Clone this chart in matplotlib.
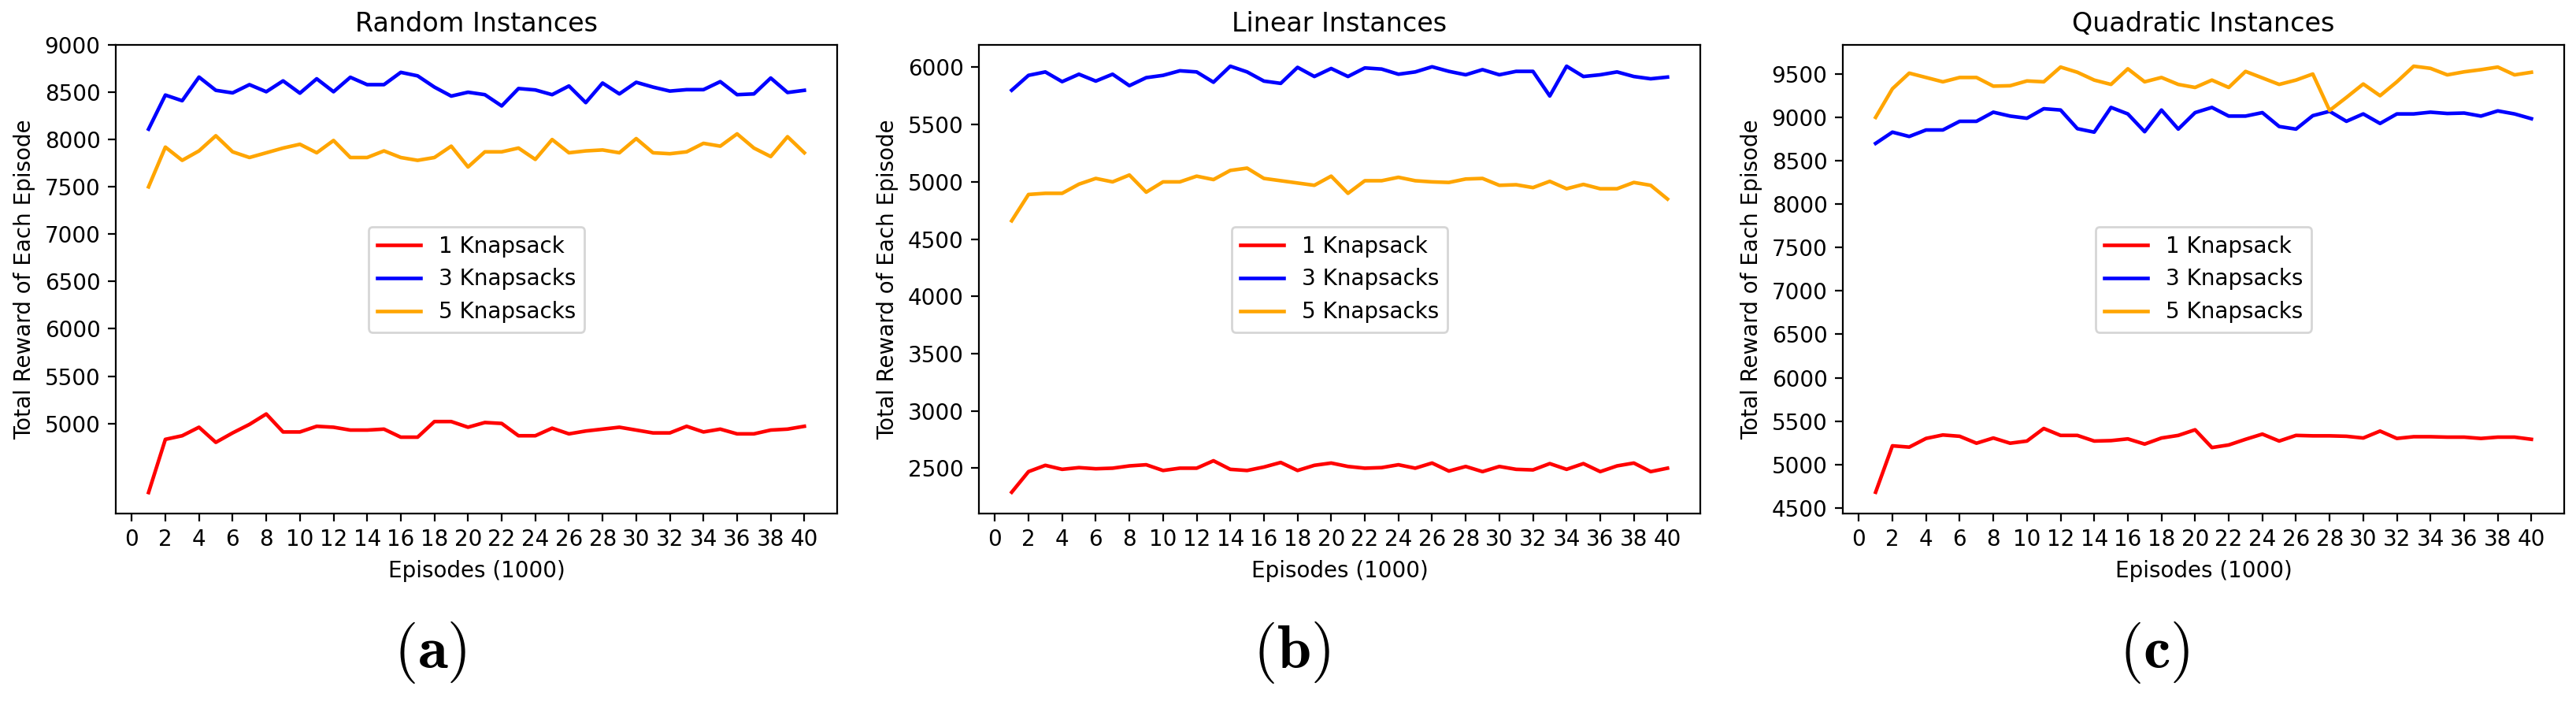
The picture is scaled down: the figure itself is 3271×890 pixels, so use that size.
import matplotlib
matplotlib.use('Agg')
import matplotlib.pyplot as plt

episodes = list(range(1, 41))

random_1 = [4270, 4832, 4870, 4960, 4800, 4900, 4990, 5100, 4910, 4910,
            4970, 4960, 4930, 4930, 4940, 4855, 4855, 5020, 5020, 4960,
            5010, 5000, 4870, 4870, 4950, 4890, 4920, 4940, 4960, 4930,
            4900, 4900, 4970, 4910, 4940, 4890, 4890, 4930, 4940, 4970]
random_3 = [8110, 8470, 8410, 8660, 8520, 8493, 8580, 8505, 8620, 8490,
            8642, 8505, 8658, 8580, 8580, 8710, 8673, 8554, 8459, 8500,
            8474, 8355, 8539, 8524, 8474, 8566, 8390, 8597, 8482, 8605,
            8554, 8512, 8527, 8527, 8612, 8474, 8482, 8650, 8497, 8520]
random_5 = [7500, 7920, 7780, 7880, 8040, 7870, 7810, 7860, 7910, 7950,
            7860, 7990, 7810, 7810, 7880, 7810, 7780, 7810, 7930, 7710,
            7870, 7870, 7910, 7790, 8000, 7860, 7880, 7890, 7860, 8010,
            7860, 7850, 7870, 7960, 7930, 8060, 7910, 7820, 8030, 7860]

linear_1 = [2290, 2470, 2525, 2490, 2505, 2495, 2500, 2520, 2530, 2480,
            2500, 2500, 2565, 2490, 2480, 2510, 2550, 2480, 2525, 2545,
            2515, 2500, 2505, 2530, 2500, 2545, 2475, 2515, 2470, 2515,
            2490, 2485, 2540, 2490, 2540, 2470, 2520, 2545, 2470, 2500]
linear_3 = [5800, 5930, 5960, 5875, 5940, 5880, 5940, 5840, 5910, 5930,
            5970, 5960, 5870, 6010, 5960, 5880, 5860, 6000, 5920, 5990,
            5920, 5995, 5985, 5940, 5960, 6005, 5965, 5935, 5980, 5935,
            5965, 5965, 5750, 6010, 5920, 5935, 5960, 5920, 5900, 5915]
linear_5 = [4660, 4890, 4900, 4900, 4980, 5030, 5000, 5060, 4910, 5000,
            5000, 5050, 5020, 5100, 5120, 5030, 5010, 4990, 4970, 5050,
            4900, 5010, 5010, 5040, 5010, 5000, 4995, 5025, 5030, 4970,
            4975, 4950, 5005, 4940, 4978, 4940, 4940, 4995, 4970, 4850]

quad_1 = [4680, 5215, 5200, 5300, 5340, 5325, 5245, 5305, 5245, 5270,
          5415, 5335, 5335, 5270, 5275, 5295, 5235, 5305, 5335, 5400,
          5195, 5225, 5290, 5350, 5270, 5335, 5330, 5330, 5325, 5305,
          5385, 5300, 5320, 5320, 5315, 5315, 5300, 5315, 5315, 5290]
quad_3 = [8700, 8830, 8780, 8855, 8855, 8955, 8955, 9060, 9015, 8990,
          9100, 9085, 8870, 8830, 9115, 9040, 8835, 9085, 8865, 9055,
          9115, 9015, 9015, 9055, 8895, 8865, 9020, 9070, 8955, 9040,
          8930, 9040, 9040, 9060, 9045, 9050, 9015, 9075, 9040, 8985]
quad_5 = [9000, 9330, 9510, 9460, 9410, 9460, 9460, 9360, 9365, 9420,
          9410, 9580, 9520, 9430, 9380, 9560, 9410, 9460, 9380, 9345,
          9430, 9345, 9530, 9455, 9380, 9430, 9500, 9080, 9230, 9385,
          9250, 9410, 9590, 9565, 9490, 9525, 9550, 9580, 9490, 9520]

titles = ['Random Instances', 'Linear Instances', 'Quadratic Instances']
panel_tags = ['a', 'b', 'c']
series_labels = ['1 Knapsack', '3 Knapsacks', '5 Knapsacks']
series_colors = ['red', 'blue', 'orange']
panels = [(random_1, random_3, random_5),
          (linear_1, linear_3, linear_5),
          (quad_1, quad_3, quad_5)]
yticks = [range(5000, 9001, 500), range(2500, 6001, 500), range(4500, 9501, 500)]

# the source looks like default matplotlib blown up about 2x
S = 2.0
plt.rcParams.update({
    'font.size': 10 * S,
    'axes.titlesize': 12 * S,
    'axes.titlepad': 6 * S,
    'axes.labelpad': 4 * S,
    'axes.linewidth': 0.8 * S,
    'lines.linewidth': 3.3,
    'patch.linewidth': 1.0 * S,
    'xtick.major.size': 3.5 * S,
    'ytick.major.size': 3.5 * S,
    'xtick.major.width': 0.8 * S,
    'ytick.major.width': 0.8 * S,
    'xtick.major.pad': 3.5 * S,
    'ytick.major.pad': 3.5 * S,
    'mathtext.fontset': 'cm',
})

W, H = 3271, 890
fig = plt.figure(figsize=(W / 100, H / 100), dpi=100)

lefts = [147, 1243, 2340]
tag_x = [546, 1640, 2736]
ax_w, ax_top, ax_bot = 916, 57, 652

for k in range(3):
    ax = fig.add_axes([lefts[k] / W, 1 - ax_bot / H, ax_w / W, (ax_bot - ax_top) / H])
    for vals, lab, col in zip(panels[k], series_labels, series_colors):
        ax.plot(episodes, vals, color=col, label=lab)
    ax.set_xticks(range(0, 41, 2))
    ax.set_yticks(list(yticks[k]))
    ax.set_title(titles[k])
    ax.set_xlabel('Episodes (1000)')
    ax.set_ylabel('Total Reward of Each Episode')
    ax.legend(loc='center')
    fig.text(tag_x[k] / W, 1 - 829 / H, r'$(\mathbf{%s})$' % panel_tags[k],
             fontsize=56, ha='center', va='center')

fig.savefig('out.png', dpi=100)
